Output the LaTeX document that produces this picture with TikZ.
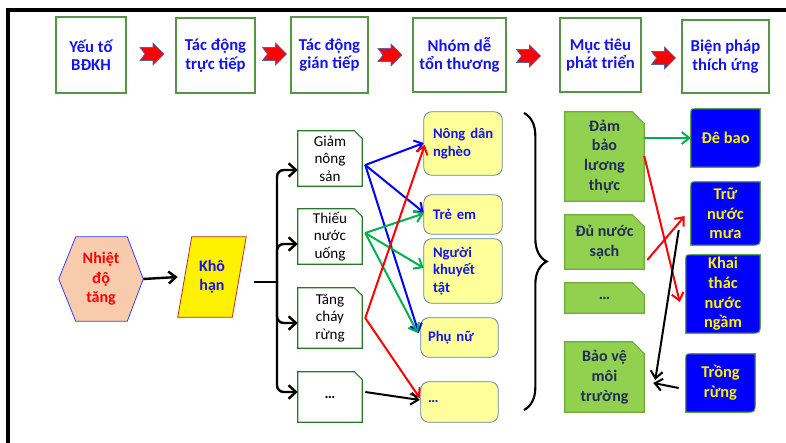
\documentclass[tikz,border=0pt]{standalone}
\usepackage{fontspec}
\setmainfont{Carlito}
\usetikzlibrary{arrows.meta,calc,backgrounds,decorations.pathreplacing}

% one drawing unit
\newdimen\pxu \pxu=0.75pt

\definecolor{hdrgreen}{RGB}{84,150,68}
\definecolor{txtblue}{RGB}{20,20,235}
\definecolor{peach}{RGB}{248,203,173}
\definecolor{hexedge}{RGB}{60,60,255}
\definecolor{paraedge}{RGB}{192,40,40}
\definecolor{leftedge}{RGB}{40,120,40}
\definecolor{paleyellow}{RGB}{255,255,153}
\definecolor{yedge}{RGB}{100,130,170}
\definecolor{goalgreen}{RGB}{146,208,80}
\definecolor{goaledge}{RGB}{110,170,60}
\definecolor{navytxt}{RGB}{31,45,90}
\definecolor{measblue}{RGB}{0,0,255}
\definecolor{measedge}{RGB}{90,160,70}
\definecolor{lnkgreen}{RGB}{0,176,80}
\definecolor{arrowedge}{RGB}{80,100,180}

% outline with the upper right corner cut off
\newcommand\snipshape[3]{%
  \path[#2] (#1.north west) -- ($(#1.north east)+(-#3,0)$) -- ($(#1.north east)+(0,#3)$)
    -- (#1.south east) -- (#1.south west) -- cycle;}
% outline with the upper left and lower right corners rounded
\newcommand\diagshape[2]{%
  \path[#2] ($(#1.north west)+(0,6)$) .. controls (#1.north west) .. ($(#1.north west)+(6,0)$)
    -- (#1.north east) -- ($(#1.south east)+(0,-10)$) .. controls (#1.south east) .. ($(#1.south east)+(-10,0)$)
    -- (#1.south west) -- cycle;}

\tikzset{
  box/.style={inner sep=0pt, align=center},
  hdr/.style={box, draw=hdrgreen, line width=0.8pt, fill=white, text=txtblue,
    font=\bfseries\fontsize{12.5}{13.8}\selectfont},
  impact/.style={box, text=black, font=\fontsize{11.3}{13.2}\selectfont},
  group/.style={inner sep=0pt, align=left, text=txtblue, font=\bfseries\fontsize{11}{13.2}\selectfont},
  goal/.style={box, text=navytxt, font=\bfseries\fontsize{12}{14.8}\selectfont},
  measure/.style={box, text=yellow, font=\bfseries\fontsize{12.3}{14.8}\selectfont},
  impactbg/.style={fill=white, draw=leftedge, line width=0.8pt},
  goalbg/.style={fill=goalgreen, draw=goaledge, line width=0.8pt},
  measbg/.style={fill=measblue, draw=measedge, line width=0.8pt},
  grp/.style={fill=paleyellow, draw=yedge, line width=0.6pt, rounded corners=6pt},
  link/.style={line width=1.5pt, -{Straight Barb[length=5.5pt,width=9pt]}},
  forkarrow/.style={line width=1.8pt, rounded corners=5pt, -{Straight Barb[length=5.5pt,width=10pt]}},
  blockarrow/.pic={\path[fill=red, draw=arrowedge, line width=0.5pt]
     (-12,-6.5) -- (1,-6.5) -- (1,-11) -- (12,0) -- (1,11) -- (1,6.5) -- (-12,6.5) -- (-7,0) -- cycle;}
}

\begin{document}
\begin{tikzpicture}[x=\pxu, y=-\pxu]
\useasboundingbox (0,0) rectangle (786,443);

% frame
\draw[line width=2.4pt] (8,443) -- (8,10) -- (786,10);

% header row
\node[hdr, minimum width=70\pxu, minimum height=76\pxu] (t1) at (91,55) {Yếu tố\\BĐKH};
\node[hdr, minimum width=79\pxu, minimum height=75\pxu] (t2) at (215.5,55.5) {Tác động\\trực tiếp};
\node[hdr, minimum width=77\pxu, minimum height=76\pxu] (t3) at (329.5,55) {Tác động\\gián tiếp};
\node[hdr, minimum width=93\pxu, minimum height=74\pxu] (t4) at (459.5,55) {Nhóm dễ\\tổn thương};
\node[hdr, minimum width=81\pxu, minimum height=74\pxu] (t5) at (600.5,55) {Mục tiêu\\phát triển};
\node[hdr, minimum width=87\pxu, minimum height=73\pxu] (t6) at (725.5,56.5) {Biện pháp\\thích ứng};

\pic at (152,54) {blockarrow};
\pic at (274.5,54) {blockarrow};
\pic at (390,55) {blockarrow};
\pic at (528.5,56) {blockarrow};
\pic at (663.5,58) {blockarrow};

% cause chain
\node[box, text=red, font=\bfseries\fontsize{12}{14.6}\selectfont,
      minimum width=84\pxu, minimum height=84\pxu] (hex) at (101,279) {Nhiệt\\độ\\tăng};
\node[box, text=txtblue, font=\bfseries\fontsize{12}{13.8}\selectfont,
      minimum width=68\pxu, minimum height=80\pxu] (kho) at (212,277) {Khô\\hạn};

% direct impacts
\node[impact, minimum width=64\pxu, minimum height=55\pxu] (l1) at (330,158.5) {Giảm\\nông\\sản};
\node[impact, minimum width=64\pxu, minimum height=55\pxu] (l2) at (330,236.5) {Thiếu\\nước\\uống};
\node[impact, minimum width=64\pxu, minimum height=60\pxu] (l3) at (330,318) {Tăng\\cháy\\rừng};
\node[impact, minimum width=64\pxu, minimum height=50\pxu] (l4) at (330,397) {\textbf{…}};

% vulnerable groups
\node[group, inner xsep=9\pxu, text width=60\pxu, minimum height=63\pxu] (y1) at (463,143.5) {Nông~dân\\nghèo};
\node[group, inner xsep=9\pxu, text width=60\pxu, minimum height=39\pxu] (y2) at (463,214.5) {Trẻ~em};
\node[group, inner xsep=9\pxu, text width=60\pxu, minimum height=64\pxu] (y3) at (463,271) {Người\\khuyết\\tật};
\node[group, inner xsep=7\pxu, text width=63\pxu, minimum height=39\pxu] (y4) at (459.5,337.5) {Phụ~nữ};
\node[group, inner xsep=7\pxu, text width=63\pxu, minimum height=40\pxu] (y5) at (459.5,402) {…};

% development goals
\node[goal, minimum width=79\pxu, minimum height=89\pxu] (g1) at (604.5,156.5) {Đảm\\bảo\\lương\\thực};
\node[goal, minimum width=79\pxu, minimum height=54\pxu] (g2) at (604.5,242) {Đủ nước\\sạch};
\node[goal, minimum width=79\pxu, minimum height=30\pxu] (g3) at (604.5,298) {…};
\node[goal, minimum width=79\pxu, minimum height=70\pxu] (g4) at (604.5,377) {Bảo vệ\\môi\\trường};

% adaptation measures
\node[measure, minimum width=69\pxu, minimum height=58\pxu] (b1) at (725.5,138) {Đê bao};
\node[measure, minimum width=69\pxu, minimum height=63\pxu] (b2) at (725.5,213.5) {Trữ\\nước\\mưa};
\node[measure, minimum width=74\pxu, minimum height=78\pxu] (b3) at (723,294) {Khai\\thác\\nước\\ngầm};
\node[measure, minimum width=69\pxu, minimum height=58\pxu] (b4) at (720.5,383) {Trồng\\rừng};

% shape fills behind the texts
\begin{scope}[on background layer]
  \path[fill=peach, draw=hexedge, line width=0.6pt]
    (hex.west) -- ($(hex.north west)+(17,0)$) -- ($(hex.north east)+(-16,0)$) -- (hex.east)
    -- ($(hex.south east)+(-16,0)$) -- ($(hex.south west)+(17,0)$) -- cycle;
  \path[fill=yellow, draw=paraedge, line width=0.6pt]
    ($(kho.north west)+(14,0)$) -- (kho.north east) -- ($(kho.south east)+(-14,0)$) -- (kho.south west) -- cycle;
  \snipshape{l1}{impactbg}{8}
  \snipshape{l2}{impactbg}{8}
  \snipshape{l3}{impactbg}{8}
  \snipshape{l4}{impactbg}{8}
  \path[grp] (y1.north west) rectangle (y1.south east);
  \path[grp] (y2.north west) rectangle (y2.south east);
  \path[grp] (y3.north west) rectangle (y3.south east);
  \path[grp] (y4.north west) rectangle (y4.south east);
  \path[grp] (y5.north west) rectangle (y5.south east);
  \snipshape{g1}{goalbg}{12}
  \snipshape{g2}{goalbg}{12}
  \snipshape{g3}{goalbg}{12}
  \snipshape{g4}{goalbg}{12}
  \diagshape{b1}{measbg}
  \diagshape{b2}{measbg}
  \diagshape{b3}{measbg}
  \diagshape{b4}{measbg}
\end{scope}

% cause chain arrows
\draw[link, line width=1.8pt] (hex.east) -- (kho.west);
\coordinate (stem) at (254,282);
\coordinate (fork) at (277,282);
\draw[line width=1.8pt] (stem) -- (fork);
\draw[forkarrow] (fork) |- ($(l1.west)+(0,11.5)$);
\draw[forkarrow] (fork) |- ($(l2.west)+(0,7.5)$);
\draw[forkarrow] (fork) |- ($(l3.west)+(0,5)$);
\draw[forkarrow] (fork) |- ($(l4.west)+(0,-5)$);

% impacts to groups
\coordinate (o1) at ($(l1.east)+(3,6.5)$);
\coordinate (o2) at ($(l2.east)+(3,-3.5)$);
\coordinate (o3) at ($(l3.east)+(3,0)$);
\coordinate (o4) at ($(l4.east)+(3,-5)$);
\draw[link, measblue] (o1) -- ($(y1.west)+(0,-0.5)$);
\draw[link, measblue] (o1) -- ($(y2.west)+(0,-2)$);
\draw[link, measblue] (o1) -- ($(y4.west)+(-2,-4.5)$);
\draw[link, lnkgreen] (o2) -- ($(y2.west)+(0,-1)$);
\draw[link, lnkgreen] (o2) -- ($(y3.west)+(0,-3)$);
\draw[link, lnkgreen] (o2) -- ($(y4.west)+(-3,-4.5)$);
\draw[link, red] (o3) -- ($(y1.west)+(1,1.5)$);
\draw[link, red] (o3) -- ($(y5.west)+(-1,-4)$);
\draw[link, black] (o4) -- ($(y5.west)+(-1,-2)$);

% brace gathering the groups
\draw[line width=1.6pt, decorate, decoration={brace, amplitude=17pt}] (524,113) -- (524,410);

% goals and measures
\draw[link, lnkgreen] ($(g1.east)+(0,-18.5)$) -- (b1.west);
\draw[link, red] ($(g1.east)+(0,-0.5)$) -- ($(b3.west)+(-6,8)$);
\draw[link, red] ($(g2.east)+(3,18)$) -- ($(b2.west)+(-6,2.5)$);
\draw[link, black] ($(b2.west)+(-12,16.5)$) -- ($(g4.east)+(11,3)$);
\draw[link, black] ($(b4.west)+(-7,5)$) -- ($(g4.east)+(9,6)$);
\end{tikzpicture}
\end{document}
